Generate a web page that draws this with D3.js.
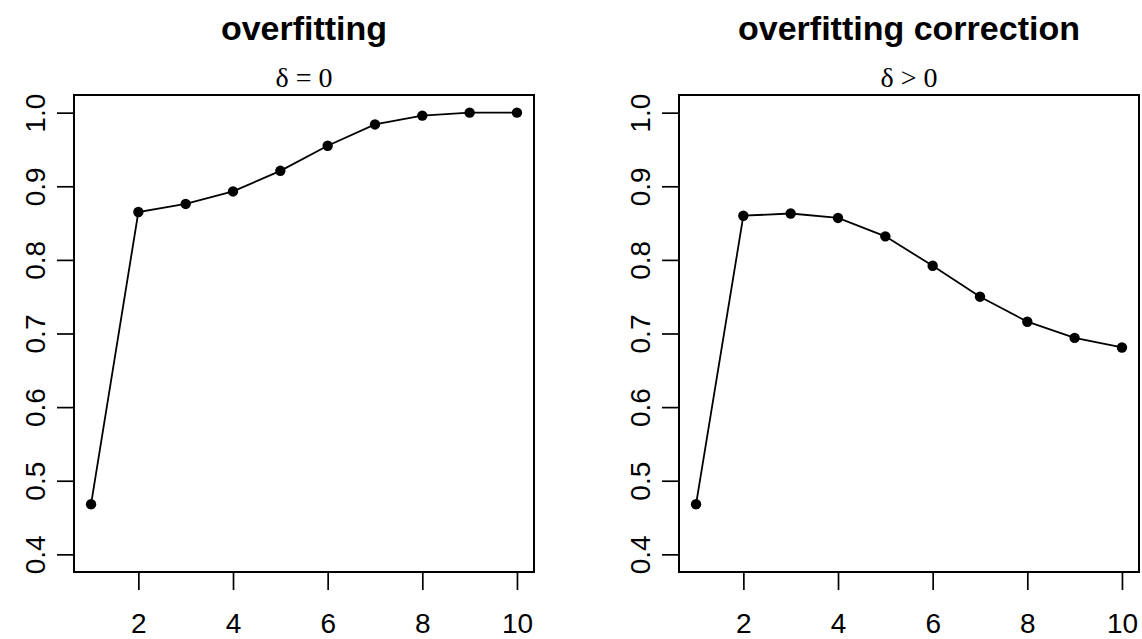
<!DOCTYPE html>
<html>
<head>
<meta charset="utf-8">
<script src="https://cdn.jsdelivr.net/npm/d3@7"></script>
<style>
  body { margin: 0; background: #fff; }
</style>
</head>
<body>
<div id="chart"></div>
<script>
var width = 1142,
    height = 639;

// data
var components = [1, 2, 3, 4, 5, 6, 7, 8, 9, 10];
var fitValues = [0.468, 0.865, 0.876, 0.893, 0.921, 0.955, 0.984, 0.996, 1.0, 1.0];
var correctedValues = [0.468, 0.860, 0.863, 0.857, 0.832, 0.792, 0.750, 0.716, 0.694, 0.681];
var titles = ["overfitting", "overfitting correction"];
var subtitles = ["\u03b4 = 0", "\u03b4 > 0"];
var xTicks = [2, 4, 6, 8, 10];
var yTicks = [0.4, 0.5, 0.6, 0.7, 0.8, 0.9, 1.0];

var svg = d3.select("#chart").append("svg")
    .attr("width", width)
    .attr("height", height);

// R style 4% extension of the limits
function extend(lo, hi) {
    var d = (hi - lo) * 0.04;
    return [lo - d, hi + d];
}

var boxW = 460,
    boxTop = 95,
    boxBottom = 572;

function panel(left, title, subtitle, values) {
    var x = d3.scaleLinear().domain(extend(1, 10)).range([left, left + boxW]);
    var y = d3.scaleLinear().domain(extend(0.4, 1.0)).range([boxBottom, boxTop]);
    var cx = left + boxW / 2;

    svg.append("text")
        .attr("x", cx).attr("y", 40)
        .attr("text-anchor", "middle")
        .attr("font-family", "Liberation Sans, Arial, sans-serif")
        .attr("font-weight", "bold")
        .attr("font-size", "34px")
        .text(title);

    svg.append("text")
        .attr("x", cx).attr("y", 87)
        .attr("text-anchor", "middle")
        .attr("font-family", "Liberation Serif, DejaVu Serif, serif")
        .attr("font-size", "28px")
        .text(subtitle);

    svg.append("rect")
        .attr("x", left).attr("y", boxTop)
        .attr("width", boxW).attr("height", boxBottom - boxTop)
        .attr("fill", "none")
        .attr("stroke", "#000")
        .attr("stroke-width", 2);

    var xAxis = svg.append("g")
        .attr("transform", "translate(0," + boxBottom + ")")
        .call(d3.axisBottom(x).tickValues(xTicks).tickSize(18).tickPadding(23).tickFormat(d3.format("d")));
    xAxis.select(".domain").remove();
    xAxis.selectAll("line").attr("stroke-width", 1.7);
    xAxis.selectAll("text")
        .attr("font-family", "Liberation Sans, Arial, sans-serif")
        .attr("font-size", "28px")
        .attr("fill", "#000");

    var yAxis = svg.append("g")
        .attr("transform", "translate(" + left + ",0)")
        .call(d3.axisLeft(y).tickValues(yTicks).tickSize(17).tickFormat(d3.format(".1f")));
    yAxis.select(".domain").remove();
    yAxis.selectAll("line").attr("stroke-width", 1.7);
    yAxis.selectAll("text")
        .attr("x", null).attr("dy", null)
        .attr("transform", "translate(-29,0) rotate(-90)")
        .attr("text-anchor", "middle")
        .attr("font-family", "Liberation Sans, Arial, sans-serif")
        .attr("font-size", "28px")
        .attr("fill", "#000");

    var pts = components.map(function (c, i) { return [c, values[i]]; });

    svg.append("path")
        .datum(pts)
        .attr("fill", "none")
        .attr("stroke", "#000")
        .attr("stroke-width", 1.8)
        .attr("d", d3.line()
            .x(function (d) { return x(d[0]); })
            .y(function (d) { return y(d[1]); }));

    svg.append("g").selectAll("circle")
        .data(pts)
        .enter().append("circle")
        .attr("cx", function (d) { return x(d[0]); })
        .attr("cy", function (d) { return y(d[1]); })
        .attr("r", 5.2)
        .attr("fill", "#000");
}

panel(74, titles[0], subtitles[0], fitValues);
panel(679, titles[1], subtitles[1], correctedValues);
</script>
</body>
</html>
